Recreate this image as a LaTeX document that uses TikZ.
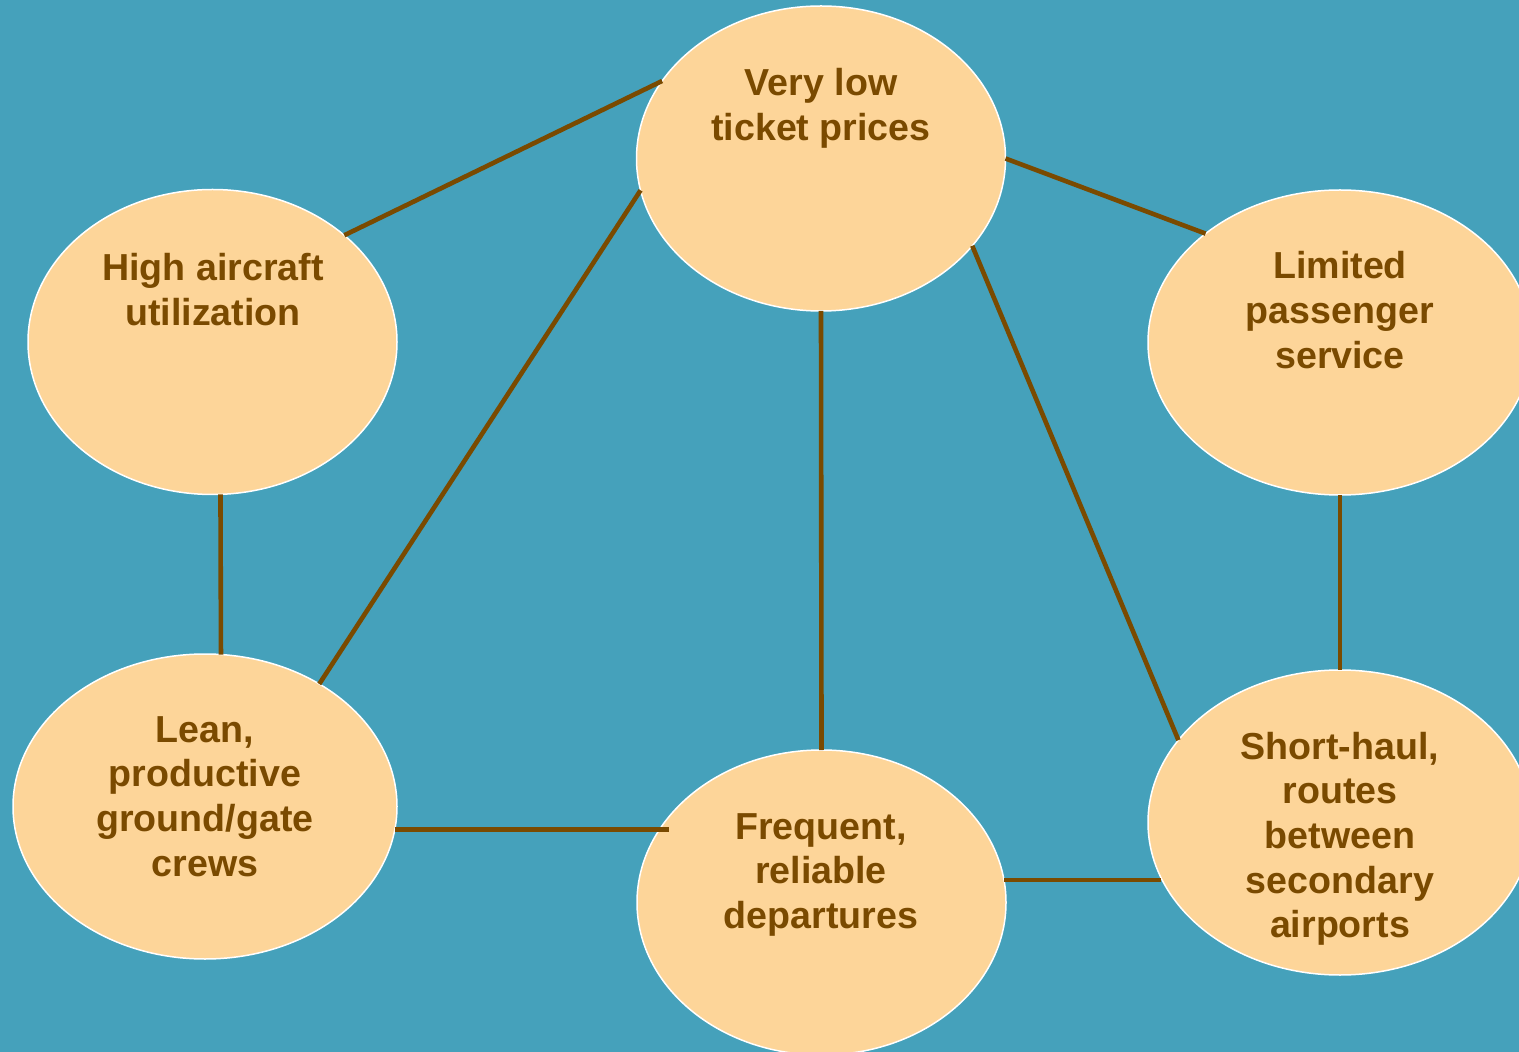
\documentclass[tikz,border=0pt]{standalone}
\usepackage{fontspec}
\setmainfont{Liberation Sans}
\usetikzlibrary{shapes.geometric,calc}

\definecolor{seabg}{RGB}{69,161,187}
\definecolor{peach}{RGB}{253,213,153}
\definecolor{umber}{RGB}{122,74,0}

\tikzset{
  bubble/.style={ellipse, draw=white, line width=0.75pt, fill=peach,
    inner sep=0pt, outer sep=0pt},
  narrow/.style={bubble, minimum width=184.5pt, minimum height=152.5pt},
  wide/.style={bubble, minimum width=192pt, minimum height=152.5pt},
  % captions are placed by the baseline of their last line
  caption/.style={anchor=base, align=center, text=umber, inner sep=0pt,
    font=\fontsize{18.8}{22.35}\selectfont\bfseries},
  link/.style={draw=umber, line width=2.3pt}
}

\begin{document}
\begin{tikzpicture}[x=0.5pt,y=-0.5pt]
  % page and backdrop
  \useasboundingbox (0,0) rectangle (1519,1052);
  \fill[seabg] (0,0) rectangle (1519,1052);
  \clip (0,0) rectangle (1519,1052);

  % bubbles
  \node[narrow] (prices)  at (821,158.5)   {};
  \node[narrow] (util)    at (212.5,342)   {};
  \node[wide]   (service) at (1340,342.5)  {};
  \node[wide]   (crews)   at (205,806.5)   {};
  \node[narrow] (departs) at (821.5,902.5) {};
  \node[wide]   (routes)  at (1340,822.5)  {};

  % captions
  \node[caption] (pricesT)  at (821,140.7)  {Very low\\ticket prices};
  \node[caption] (utilT)    at (213,325.7)  {High aircraft\\utilization};
  \node[caption] (serviceT) at (1340,368.4) {Limited\\passenger\\service};
  \node[caption] (crewsT)   at (205,876.1)  {Lean,\\productive\\ground/gate\\crews};
  \node[caption] (departsT) at (821,928.4)  {Frequent,\\reliable\\departures};
  \node[caption] (routesT)  at (1340,937.8) {Short-haul,\\routes\\between\\secondary\\airports};

  % links between activities
  \coordinate (departsIn) at ($(departs.west)+(32,0)$);
  \draw[link] (prices.154.6) -- (util.39.4);
  \draw[link] (prices.190.3) -- (crews.47);
  \draw[link] (prices.south) -- (departs.north);
  \draw[link] (prices.east)  -- (service.141.7);
  \draw[link] (prices.-30.2) -- (routes.153.7);
  \draw[link] (util.-87.2)   -- (crews.84.4);
  \draw[link] (crews.-7)     -- (crews.-7 -| departsIn);
  \draw[link] (departs.7.3)  -- (departs.7.3 -| routes.197.4);
  \draw[link] (service.south) -- (routes.north);
\end{tikzpicture}
\end{document}
